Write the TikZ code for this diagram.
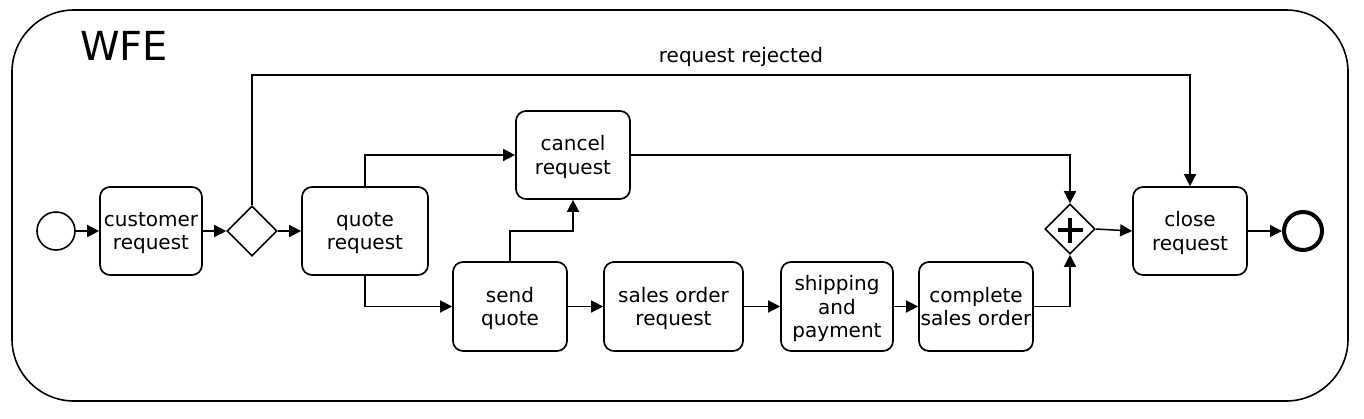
\documentclass[tikz,border=0pt]{standalone}
\usepackage{fontspec}
\setmainfont{DejaVu Sans}
\usetikzlibrary{arrows.meta,shapes.geometric,calc}
\begin{document}
\begin{tikzpicture}[x=1pt,y=-1pt,
  task/.style={draw,line width=1.7pt,rounded corners=10pt,align=center,inner sep=0pt,
    font=\fontsize{20}{23.5}\selectfont,text depth=-0.5pt},
  gw/.style={draw,diamond,line width=1.6pt,minimum width=50pt,minimum height=50pt,inner sep=0pt,fill=white},
  flow/.style={line width=1.5pt,-{Triangle[length=12pt,width=12pt]}},
  lbl/.style={font=\fontsize{20}{23.5}\selectfont,inner sep=0pt},
]
\useasboundingbox (0,0) rectangle (1364,418);
\node[draw,line width=1.6pt,rounded corners=62pt,minimum width=1336pt,minimum height=391pt,inner sep=0pt] (pool) at (680,205.5) {};
\node[anchor=base west,inner sep=0pt,font=\fontsize{40}{42}\selectfont] (wfe) at (80,60) {WFE};

\node[circle,draw,line width=1.6pt,minimum size=38pt,inner sep=0pt] (st) at (56,231) {};
\node[task,minimum width=102pt,minimum height=88pt] (cr) at (151,231) {customer\\request};
\node[gw] (g1) at (252,231) {};
\node[task,minimum width=126pt,minimum height=88pt] (qr) at (365,231) {quote\\request};
\node[task,minimum width=114pt,minimum height=88pt] (can) at (573,155) {cancel\\request};
\node[task,minimum width=114pt,minimum height=89pt] (sq) at (510,306.5) {send\\quote};
\node[task,minimum width=139pt,minimum height=89pt] (so) at (673.5,306.5) {sales order\\request};
\node[task,minimum width=112pt,minimum height=89pt] (sp) at (837,306.5) {shipping\\and\\payment};
\node[task,minimum width=114pt,minimum height=89pt] (cs) at (976,306.5) {complete\\sales order};
\node[gw] (g2) at (1070,229) {};
\draw[line width=4pt] ($(g2)+(-12.5,1)$) -- ($(g2)+(12.5,1)$) ($(g2)+(0,-11.5)$) -- ($(g2)+(0,13.5)$);
\node[task,minimum width=114pt,minimum height=88pt] (cl) at (1190,231) {close\\request};
\node[circle,draw,line width=4pt,minimum size=38pt,inner sep=0pt] (en) at (1303,231) {};

\node[lbl] (rr) at (741,57) {request rejected};

\coordinate (b1) at (510,231);
\coordinate (t1) at (252,75);

\draw[flow] (st) -- (cr);
\draw[flow] (cr) -- (g1);
\draw[flow] (g1) -- (qr);
\draw[flow] (g1.north) -- (t1) -| (cl.north);
\draw[flow] (qr.north) |- (can.west);
\draw[flow] (qr.south) |- (sq.west);
\draw[flow] (sq.north) -- (b1) -| (can.south);
\draw[flow] (can.east) -| (g2.north);
\draw[flow] (sq) -- (so);
\draw[flow] (so) -- (sp);
\draw[flow] (sp) -- (cs);
\draw[flow] (cs.east) -| (g2.south);
\draw[flow] (g2.east) -- (cl.west);
\draw[flow] (cl) -- (en);
\end{tikzpicture}
\end{document}
